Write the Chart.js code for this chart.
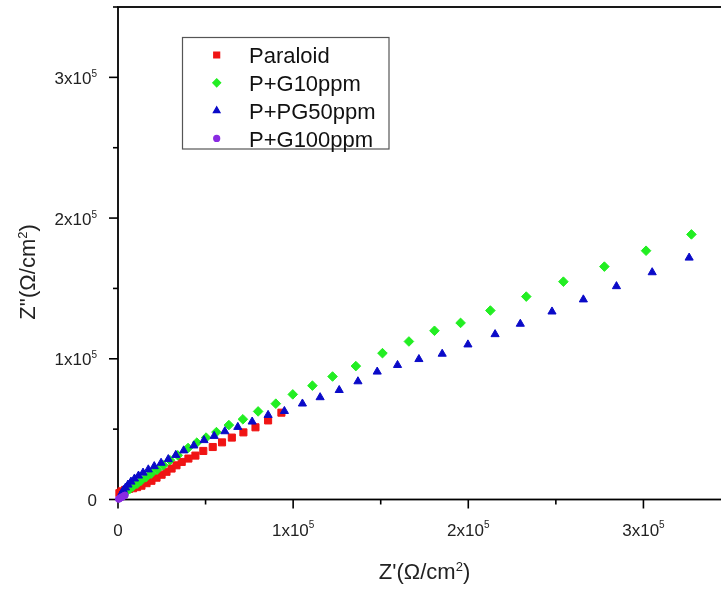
<!DOCTYPE html>
<html>
<head>
<meta charset="utf-8">
<script src="https://cdn.jsdelivr.net/npm/chart.js@4/dist/chart.umd.min.js"></script>
<style>
  html, body { margin: 0; padding: 0; background: #fff; overflow: hidden; }
  /* the plot's right edge runs past the window, as in the reference crop */
  #wrap { position: relative; width: 760px; height: 591px; }
</style>
</head>
<body>
<div id="wrap"><canvas id="nyquist"></canvas></div>
<script>
// Nyquist plot: Z' vs Z'' for four coatings. Values in ohm/cm2.

const paraloidX = [800, 2000, 4000, 6300, 8600, 10900, 13400, 16300, 19100, 22000, 24900, 27700, 30600, 33400, 36400, 40200, 44200, 48700, 54100, 59400, 65000, 71600, 78500, 85700, 93300];
const paraloidY = [4500, 5800, 6800, 7500, 8000, 8800, 9800, 11600, 13300, 15500, 17600, 19700, 22000, 24300, 26700, 29100, 31200, 34500, 37300, 40600, 44000, 47700, 51300, 56200, 61700];

const g10X = [2900, 4000, 5100, 6900, 8600, 10900, 13100, 16000, 18900, 22300, 25900, 29700, 34100, 40000, 45000, 50300, 56200, 63300, 71300, 80000, 90100, 99800, 111000, 122500, 135800, 151000, 166100, 180700, 195600, 212600, 233100, 254300, 277700, 301500, 327400];
const g10Y = [3800, 4800, 6200, 7700, 9400, 11200, 13300, 15800, 18300, 21100, 24300, 27900, 31400, 36600, 40400, 44000, 47900, 52900, 57000, 62600, 68100, 74700, 80900, 87400, 94800, 104000, 112300, 119900, 125500, 134300, 144200, 154800, 165500, 176800, 188400];

const pg50X = [1700, 2300, 3100, 4300, 5700, 7400, 9400, 11700, 14300, 17300, 20700, 24600, 28700, 33000, 37500, 43300, 49100, 54900, 61000, 68400, 76600, 85700, 95000, 105300, 115400, 126300, 137000, 148000, 159600, 171800, 185100, 199800, 215300, 229700, 247800, 265700, 284600, 305000, 326100];
const pg50Y = [3400, 4800, 6600, 8400, 10500, 12600, 14800, 16900, 19000, 21300, 23600, 26000, 28600, 31600, 34800, 38300, 42100, 45100, 48400, 51500, 55300, 60000, 62800, 68100, 72600, 77700, 83900, 90800, 95500, 99700, 103500, 110100, 117400, 124800, 133500, 142100, 151500, 161400, 171800];

const g100X = [400, 1000, 1700, 2500, 3300, 4000];
const g100Y = [300, 800, 1300, 1900, 2500, 3000];

const axisMin = 0;
const axisMax = 350000;
const tickStep = 50000;

const FONT = '"Liberation Sans", Arial, sans-serif';

const pts = (xs, ys) => xs.map((x, i) => ({ x, y: ys[i] }));

const series = [
  { label: "Paraloid",   xs: paraloidX, ys: paraloidY, color: "#f01414", style: "rect",     r: 5.0, lr: 4.2, order: 4 },
  { label: "P+G10ppm",   xs: g10X,      ys: g10Y,      color: "#22ee22", style: "rectRot",  r: 4.8, lr: 4.0, order: 3 },
  { label: "P+PG50ppm",  xs: pg50X,     ys: pg50Y,     color: "#0a0ac8", style: "triangle", r: 4.7, lr: 3.9, order: 2 },
  { label: "P+G100ppm",  xs: g100X,     ys: g100Y,     color: "#8a2be2", style: "circle",   r: 3.3, lr: 3.0, order: 1 },
];

// text with an optional superscript piece, left edge at x, baseline at y
function richWidth(ctx, parts, size, supSize) {
  let w = 0;
  for (const p of parts) {
    ctx.font = `${p.sup ? supSize : size}px ${FONT}`;
    w += ctx.measureText(p.t).width;
  }
  return w;
}

function drawRich(ctx, parts, x, y, size, supSize) {
  const capTop = y - size * 0.716;
  for (const p of parts) {
    const s = p.sup ? supSize : size;
    ctx.font = `${s}px ${FONT}`;
    const by = p.sup ? capTop + supSize * 0.716 - 2 : y;
    ctx.fillText(p.t, x, by);
    x += ctx.measureText(p.t).width;
  }
}

function sciParts(v) {
  if (v === 0) return [{ t: "0" }];
  return [{ t: `${v / 1e5}x10` }, { t: "5", sup: true }];
}

const frame = {
  id: "frame",
  beforeDatasetsDraw(chart) {
    const { ctx, chartArea: a, scales: { x, y } } = chart;
    ctx.save();
    ctx.strokeStyle = "#000";
    ctx.lineWidth = 1.8;
    ctx.strokeRect(a.left, a.top, a.right - a.left, a.bottom - a.top);

    ctx.lineWidth = 1.6;
    ctx.fillStyle = "#222";
    ctx.textAlign = "left";
    ctx.textBaseline = "alphabetic";

    x.ticks.forEach((t) => {
      const px = x.getPixelForValue(t.value);
      const major = t.value % 100000 === 0;
      ctx.beginPath();
      ctx.moveTo(px, a.bottom);
      ctx.lineTo(px, a.bottom + (major ? 9 : 5));
      ctx.stroke();
      if (major && t.value < axisMax) {
        const parts = sciParts(t.value);
        const w = richWidth(ctx, parts, 17, 10);
        drawRich(ctx, parts, px - w / 2, a.bottom + 36, 17, 10);
      }
    });

    y.ticks.forEach((t) => {
      const py = y.getPixelForValue(t.value);
      const major = t.value % 100000 === 0;
      ctx.beginPath();
      ctx.moveTo(a.left - (major ? 9 : 5), py);
      ctx.lineTo(a.left, py);
      ctx.stroke();
      if (major && t.value < axisMax) {
        const parts = sciParts(t.value);
        const w = richWidth(ctx, parts, 17, 10);
        drawRich(ctx, parts, 97 - w, py + 6.5, 17, 10);
      }
    });

    // axis titles
    ctx.fillStyle = "#222";
    const xt = [{ t: "Z'(\u03A9/cm" }, { t: "2", sup: true }, { t: ")" }];
    const xw = richWidth(ctx, xt, 22, 13);
    drawRich(ctx, xt, (a.left + a.right) / 2 - xw / 2, 579, 22, 13);

    const yt = [{ t: "Z''(\u03A9/cm" }, { t: "2", sup: true }, { t: ")" }];
    const yw = richWidth(ctx, yt, 22, 13);
    ctx.translate(35, 272);
    ctx.rotate(-Math.PI / 2);
    drawRich(ctx, yt, -yw / 2, 0, 22, 13);
    ctx.restore();
  },
  afterDraw(chart) {
    const ctx = chart.ctx;
    ctx.save();
    ctx.strokeStyle = "#555";
    ctx.lineWidth = 1.2;
    ctx.strokeRect(182.5, 37.5, 206.5, 111.5);
    ctx.textAlign = "left";
    ctx.textBaseline = "alphabetic";
    series.forEach((s, i) => {
      const base = 63.3 + i * 27.8;
      ctx.fillStyle = s.color;
      ctx.strokeStyle = s.color;
      Chart.helpers.drawPoint(ctx, { pointStyle: s.style, radius: s.lr, rotation: 0, borderWidth: 1 }, 216.7, base - 8.3);
      ctx.fillStyle = "#111";
      ctx.font = `22px ${FONT}`;
      ctx.fillText(s.label, 249, base);
    });
    ctx.restore();
  },
};

new Chart(document.getElementById("nyquist"), {
  type: "scatter",
  data: {
    datasets: series.map((s) => ({
      label: s.label,
      data: pts(s.xs, s.ys),
      pointStyle: s.style,
      pointRadius: s.r,
      pointBackgroundColor: s.color,
      pointBorderColor: s.color,
      pointBorderWidth: 1,
      showLine: false,
      order: s.order,
    })),
  },
  options: {
    responsive: true,
    maintainAspectRatio: false,
    animation: false,
    clip: false,
    layout: { padding: { top: 7, right: 29, left: 0, bottom: 0 } },
    plugins: { legend: { display: false }, tooltip: { enabled: false } },
    scales: {
      x: {
        type: "linear", min: axisMin, max: axisMax,
        ticks: { stepSize: tickStep, display: false },
        grid: { display: false }, border: { display: false },
        afterFit: (s) => { s.height = 91.5; },
      },
      y: {
        type: "linear", min: axisMin, max: axisMax,
        ticks: { stepSize: tickStep, display: false },
        grid: { display: false }, border: { display: false },
        afterFit: (s) => { s.width = 118; },
      },
    },
  },
  plugins: [frame],
});
</script>
</body>
</html>
